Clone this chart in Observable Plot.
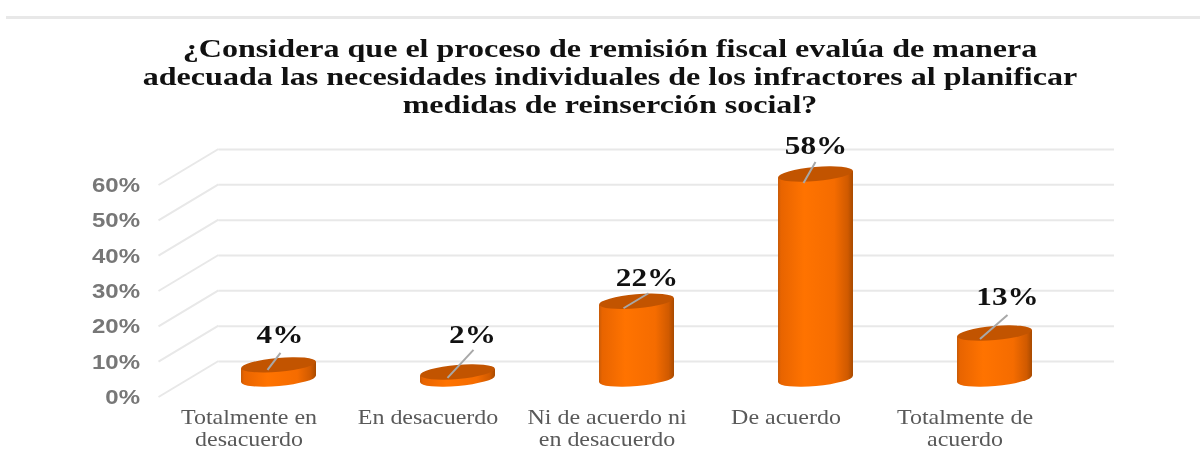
<!DOCTYPE html>
<html lang="es">
<head>
<meta charset="utf-8">
<script src="https://cdn.jsdelivr.net/npm/d3@7"></script>
<script src="https://cdn.jsdelivr.net/npm/@observablehq/plot@0.6"></script>
<style>
html,body{margin:0;padding:0;background:#fff;width:1200px;height:457px;overflow:hidden}
#head{position:relative;height:130px;width:1200px}
#rule{position:absolute;left:6px;right:0;top:16px;height:3px;background:#e8e8e8}
#title{position:absolute;left:10px;width:1200px;top:35px;text-align:center;font:bold 26px/28px "Liberation Serif",serif;color:#111;transform:scaleX(1.233);transform-origin:600px 0;white-space:nowrap;filter:blur(.35px)}
#chart svg{display:block;filter:blur(.35px)}
</style>
</head>
<body>
<div id="head">
  <div id="rule"></div>
  <div id="title"></div>
</div>
<div id="chart"></div>
<script>
const titleLines = [
  "¿Considera que el proceso de remisión fiscal evalúa de manera",
  "adecuada las necesidades individuales de los infractores al planificar",
  "medidas de reinserción social?"
];
const categories = ["Totalmente en desacuerdo","En desacuerdo","Ni de acuerdo ni en desacuerdo","De acuerdo","Totalmente de acuerdo"];
const categoryLabels = ["Totalmente en\ndesacuerdo","En desacuerdo","Ni de acuerdo ni\nen desacuerdo","De acuerdo","Totalmente de\nacuerdo"];
const values = [4, 2, 22, 58, 13];
const yTicks = [0, 10, 20, 30, 40, 50, 60];

// layout of the pseudo-3D wall and of the callouts (pixels, relative to the scales)
const depth = {dx: 30, dy: 36};
const labelNudge = [[1,-49],[14.5,-56],[10,-42],[0,-47],[12.5,-55]];
const leaderNudge = [[-11,5,2,-12],[-10,6,16,-22],[-13,7,12,-8],[-12,9,0,-12],[-14.5,6,13,-18]];

document.getElementById("title").innerHTML = titleLines.join("<br>");
const rows = categories.map((category, i) => ({category, value: values[i], i}));
const labelOf = new Map(categories.map((c, i) => [c, categoryLabels[i]]));
const NS = "http://www.w3.org/2000/svg";
const el = (name, attrs) => {
  const e = document.createElementNS(NS, name);
  for (const k in attrs) e.setAttribute(k, attrs[k]);
  return e;
};
const TILT = -5;

function cylinders(index, scales, vals, dims, ctx, next) {
  const g = next(index, scales, vals, dims, ctx);
  [...g.querySelectorAll("rect")].forEach((r, n) => {
    const x = +r.getAttribute("x"), y = +r.getAttribute("y");
    const w = +r.getAttribute("width"), h = +r.getAttribute("height");
    const cx = x + w / 2, rx = w / 2, ry = 7, bottom = y + h;
    const row = index[n];
    r.setAttribute("transform", `translate(${cx},${y + h / 2}) skewY(${TILT}) translate(${-cx},${-(y + h / 2)})`);
    g.insertBefore(el("ellipse", {cx, cy: bottom, rx, ry, fill: "url(#cyl)",
      transform: `rotate(${TILT} ${cx} ${bottom})`}), r);
    g.append(el("ellipse", {cx, cy: y, rx, ry, fill: "#c25400",
      transform: `rotate(${TILT} ${cx} ${y})`}));
    const [a, b, c, d] = leaderNudge[row];
    g.append(el("line", {x1: cx + a, y1: y + b, x2: cx + c, y2: y + d, stroke: "#a8a8a8", "stroke-width": 2}));
  });
  return g;
}

const diagonals = (index, {y}, vals, {marginLeft}) => {
  const g = el("g", {stroke: "#e8e8e8", "stroke-width": 2});
  for (const t of yTicks) {
    g.append(el("line", {x1: marginLeft - depth.dx, y1: y(t), x2: marginLeft + depth.dx, y2: y(t) - depth.dy}));
  }
  return g;
};

const svg = Plot.plot({
  width: 1200, height: 327,
  marginTop: 55, marginBottom: 60, marginLeft: 188.5, marginRight: 116,
  style: {background: "transparent", overflow: "visible"},
  x: {type: "band", domain: categories, paddingInner: 0.58, paddingOuter: 0.29, label: null},
  y: {domain: [0, 60], label: null},
  marks: [
    Plot.ruleY(yTicks, {dx: depth.dx, dy: -depth.dy, stroke: "#e8e8e8", strokeWidth: 2}),
    diagonals,
    Plot.axisY({ticks: yTicks, anchor: "left", tickSize: 0, tickPadding: 49, label: null,
      tickFormat: d => d + "%", fontSize: 20, fontWeight: "bold", fontFamily: "Liberation Sans", fill: "#777"}),
    Plot.axisX({anchor: "bottom", tickSize: 0, tickPadding: 11, dx: -30, label: null, lineHeight: 1.1,
      tickFormat: d => labelOf.get(d), fontSize: 20, fontFamily: "Liberation Serif", fill: "#595959"}),
    Plot.barY(rows.map(r => r.value), {
      x: categories, y: d => d, dy: -18, fill: "url(#cyl)", render: cylinders
    }),
    ...rows.map(r => Plot.text([r], {
      x: "category", y: "value", text: d => d.value + "%",
      dx: labelNudge[r.i][0], dy: labelNudge[r.i][1],
      fontSize: 26, fontWeight: "bold", fontFamily: "Liberation Serif", fill: "#111"
    }))
  ]
});

// cylinder shading
const defs = el("defs", {});
const grad = el("linearGradient", {id: "cyl", x1: 0, x2: 1, y1: 0, y2: 0});
[[0,"#c65a08"],[.04,"#e86400"],[.35,"#ff7300"],[.75,"#f56c00"],[.93,"#d05a00"],[1,"#a84a00"]].forEach(([o, c]) =>
  grad.append(el("stop", {offset: o, "stop-color": c})));
defs.append(grad);
svg.prepend(defs);

// the reference is stretched horizontally: widen each text around its anchor
svg.querySelectorAll("text").forEach(t => {
  const tr = t.getAttribute("transform");
  if (tr) t.setAttribute("transform", tr + " scale(1.2,1)");
});
document.getElementById("chart").append(svg);
</script>
</body>
</html>
